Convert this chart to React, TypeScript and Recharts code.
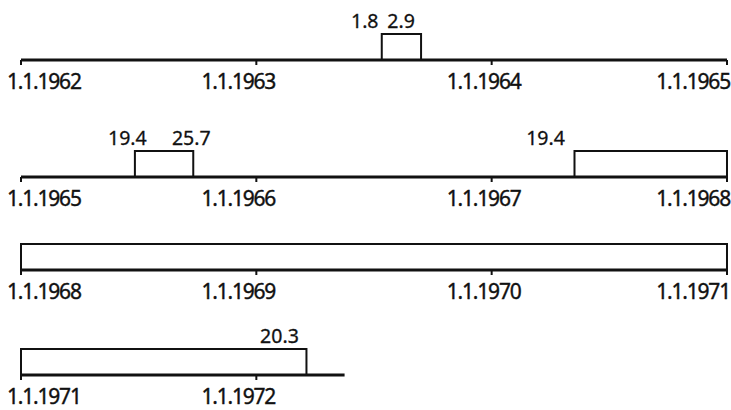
import { ComposedChart, ReferenceArea, XAxis, YAxis } from "recharts"

// one timeline row per three years
const rowStart = [1962, 1965, 1968, 1971]
const rowEnd = [1965, 1968, 1971, 1972.375]
const rowTicks = [
    [1962, 1963, 1964, 1965],
    [1965, 1966, 1967, 1968],
    [1968, 1969, 1970, 1971],
    [1971, 1972],
]

// periods drawn as boxes on the timelines
const periodRow = [0, 1, 1, 2, 3]
const periodFrom = [1963.533, 1965.484, 1967.352, 1968, 1971]
const periodTo = [1963.7, 1965.732, 1968, 1971, 1972.213]
const fromLabel = ["1.8", "19.4", "19.4", "", ""]
const toLabel = ["2.9", "25.7", "", "", "20.3"]

// layout
const W = 731
const LEFT = 21
const PX_PER_YEAR = 235.33
const axisY = [60, 177, 270, 375]
const BOX_H = 26
const TOP = 30
const BOTTOM = 36
const fromNudge = [-17, -7.5, -29, 0, 0]
const toNudge = [-20, -2, 0, 0, -27]
const midNudge = [0, -18, -8]
const FONT = "'Noto Sans', 'DejaVu Sans', sans-serif"
const INK = "#111"

function YearTick(props: any) {
    const { x, y, payload, ticks } = props
    const i = ticks.indexOf(payload.value)
    let anchor = "middle"
    let dx = midNudge[i] ?? 0
    if (i === 0) {
        anchor = "start"
        dx = -14
    } else if (i === ticks.length - 1 && ticks.length > 2) {
        anchor = "end"
        dx = 3
    }
    return (
        <text x={x + dx} y={y + 22} textAnchor={anchor} fill={INK} stroke={INK} strokeWidth={0.4}
            style={{ fontFamily: FONT, fontSize: 21, letterSpacing: -1.2 }}>
            {`1.1.${payload.value}`}
        </text>
    )
}

function PeriodBox(props: any) {
    const { x, y, width, height, i } = props
    const labelStyle = { fontFamily: FONT, fontSize: 19.5 }
    return (
        <g>
            <rect x={x} y={y} width={width} height={height} fill="#fff" stroke={INK} strokeWidth={2} />
            {fromLabel[i] && (
                <text x={x + fromNudge[i]} y={y - 6} textAnchor="middle" fill={INK} stroke={INK} strokeWidth={0.3} style={labelStyle}>
                    {fromLabel[i]}
                </text>
            )}
            {toLabel[i] && (
                <text x={x + width + toNudge[i]} y={y - 6} textAnchor="middle" fill={INK} stroke={INK} strokeWidth={0.3} style={labelStyle}>
                    {toLabel[i]}
                </text>
            )}
        </g>
    )
}

function TimelineRow({ r }: { r: number }) {
    const plotW = (rowEnd[r] - rowStart[r]) * PX_PER_YEAR
    const ticks = rowTicks[r]
    const data = ticks.map((t) => ({ t }))
    const periods = periodRow.map((row, i) => (row === r ? i : -1)).filter((i) => i >= 0)
    return (
        <div style={{ position: "absolute", left: 0, top: axisY[r] - BOX_H - TOP }}>
            <ComposedChart width={W} height={TOP + BOX_H + BOTTOM} data={data}
                margin={{ top: TOP, right: W - LEFT - plotW, bottom: 0, left: LEFT }}>
                <XAxis dataKey="t" type="number" domain={[rowStart[r], rowEnd[r]]} ticks={ticks}
                    interval={0} allowDataOverflow height={BOTTOM}
                    axisLine={{ stroke: INK, strokeWidth: 3 }}
                    tickLine={{ stroke: INK, strokeWidth: 2 }} tickSize={5} tickMargin={2}
                    tick={(p: any) => <YearTick {...p} ticks={ticks} />} />
                <YAxis hide type="number" domain={[0, 1]} allowDataOverflow />
                {periods.map((i) => (
                    <ReferenceArea key={i} x1={periodFrom[i]} x2={periodTo[i]} y1={0} y2={1}
                        ifOverflow="extendDomain"
                        shape={(p: any) => <PeriodBox {...p} i={i} />} />
                ))}
            </ComposedChart>
        </div>
    )
}

export default function App() {
    return (
        <div style={{ position: "absolute", left: 0, top: 0, width: W, height: 410, overflow: "hidden", background: "#fff" }}>
            {rowStart.map((_, r) => (
                <TimelineRow key={r} r={r} />
            ))}
        </div>
    )
}
